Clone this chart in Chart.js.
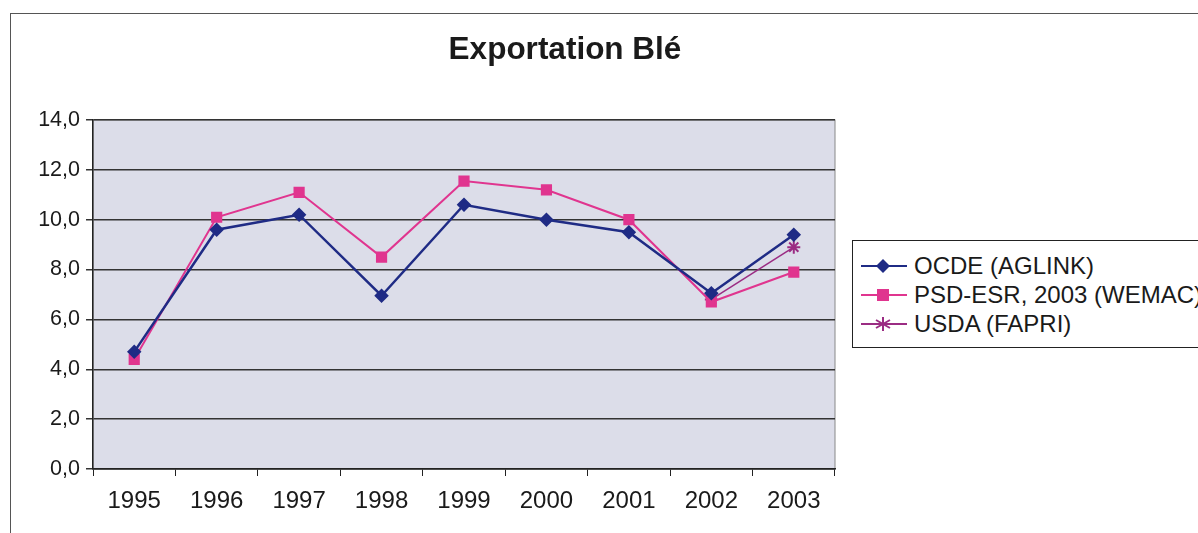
<!DOCTYPE html>
<html lang="fr">
  <head>
    <title>Exportation Blé</title>
    <meta charset="utf-8" />
    <style>
      body { margin: 0; background: #fff; font-family: "Liberation Sans", Arial, sans-serif; }
      #frame { position: absolute; left: 10px; top: 13px; width: 1300px; height: 600px; border: 1.5px solid #555; }
      #wrap { position: absolute; left: 0; top: 0; width: 1198px; height: 533px; }
      #titre { position: absolute; left: 0; width: 1130px; top: 30px; text-align: center; font-weight: bold; font-size: 31.5px; color: #1a1a1a; }
      #legende { position: absolute; left: 852px; top: 240px; width: 400px; height: 106px; border: 1.5px solid #222; background: #fff; }
      .item { position: absolute; left: 6px; height: 28px; font-size: 24px; color: #1a1a1a; display: flex; align-items: center; white-space: nowrap; }
      .item svg { margin-right: 5px; }
    </style>
  </head>
  <body>
    <div id="frame"></div>
    <div id="wrap"><canvas id="lienzo" width="1198" height="533"></canvas></div>
    <div id="titre">Exportation Blé</div>
    <div id="legende"></div>

    <script src="https://cdn.jsdelivr.net/npm/chart.js"></script>
    <script>
      const annees = ["1995", "1996", "1997", "1998", "1999", "2000", "2001", "2002", "2003"];
      const ocde = [4.7, 9.6, 10.2, 6.95, 10.6, 10.0, 9.5, 7.05, 9.4];
      const psd = [4.4, 10.1, 11.1, 8.5, 11.55, 11.2, 10.0, 6.7, 7.9];
      const usda = [null, null, null, null, null, null, null, 6.8, 8.9];
      const nomsSeries = ["OCDE (AGLINK)", "PSD-ESR, 2003 (WEMAC)", "USDA (FAPRI)"];
      const ticksY = [0, 2, 4, 6, 8, 10, 12, 14];

      const couleurs = ["#1f2b85", "#e0358f", "#9b2c83"];

      const fondPlot = {
        id: "fondPlot",
        beforeDraw(chart) {
          const { ctx, chartArea: a } = chart;
          ctx.save();
          ctx.fillStyle = "#dcdde9";
          ctx.fillRect(a.left, a.top, a.right - a.left, a.bottom - a.top);
          ctx.strokeStyle = "#888";
          ctx.lineWidth = 1;
          ctx.strokeRect(a.left, a.top, a.right - a.left, a.bottom - a.top);
          ctx.restore();
        },
      };

      const chart = new Chart(document.querySelector("#lienzo"), {
        type: "line",
        data: {
          labels: annees,
          datasets: [
            { label: nomsSeries[0], data: ocde, borderColor: couleurs[0], backgroundColor: couleurs[0],
              pointStyle: "rectRot", pointRadius: 5.5, borderWidth: 2.5 },
            { label: nomsSeries[1], data: psd, borderColor: couleurs[1], backgroundColor: couleurs[1],
              pointStyle: "rect", pointRadius: 6.5, borderWidth: 2 },
            { label: nomsSeries[2], data: usda, borderColor: couleurs[2], backgroundColor: couleurs[2],
              pointStyle: "star", pointRadius: 6.5, pointBorderWidth: 2, borderWidth: 1.5 },
          ],
        },
        options: {
          responsive: false,
          animation: false,
          layout: { padding: { left: 0, top: 120, right: 363, bottom: 0 } },
          plugins: { legend: { display: false }, tooltip: { enabled: false } },
          scales: {
            x: {
              offset: true,
              afterFit: (s) => { s.height = 64; },
              grid: { drawOnChartArea: false, offset: true, tickLength: 7, color: "#222" },
              border: { color: "#222", width: 1.5 },
              ticks: { color: "#1a1a1a", font: { family: "Liberation Sans", size: 24 }, padding: 11 },
            },
            y: {
              min: 0, max: 14,
              afterFit: (s) => { s.width = 93; },
              afterBuildTicks: (s) => { s.ticks = ticksY.map((v) => ({ value: v })); },
              grid: { color: "#333", lineWidth: 1.5, tickLength: 7 },
              border: { color: "#222", width: 1.5 },
              ticks: {
                color: "#1a1a1a", font: { family: "Liberation Sans", size: 21.5 }, padding: 6,
                callback: (v) => v.toFixed(1).replace(".", ","),
              },
            },
          },
        },
        plugins: [fondPlot],
      });

      // legende HTML avec ligne + marqueur
      const formes = [
        '<polygon points="24,1 31,8 24,15 17,8" fill="' + couleurs[0] + '"/>',
        '<rect x="18" y="2" width="12" height="12" fill="' + couleurs[1] + '"/>',
        '<path d="M24,1 V15 M17,4 L31,12 M17,12 L31,4" stroke="' + couleurs[2] + '" stroke-width="2"/>',
      ];
      nomsSeries.forEach((nom, i) => {
        const d = document.createElement("div");
        d.className = "item";
        d.style.top = 11 + i * 29 + "px";
        d.innerHTML = '<svg width="50" height="16"><line x1="2" y1="8" x2="48" y2="8" stroke="' +
          couleurs[i] + '" stroke-width="2"/>' + formes[i] + "</svg>" + nom;
        document.querySelector("#legende").appendChild(d);
      });
    </script>
  </body>
</html>
